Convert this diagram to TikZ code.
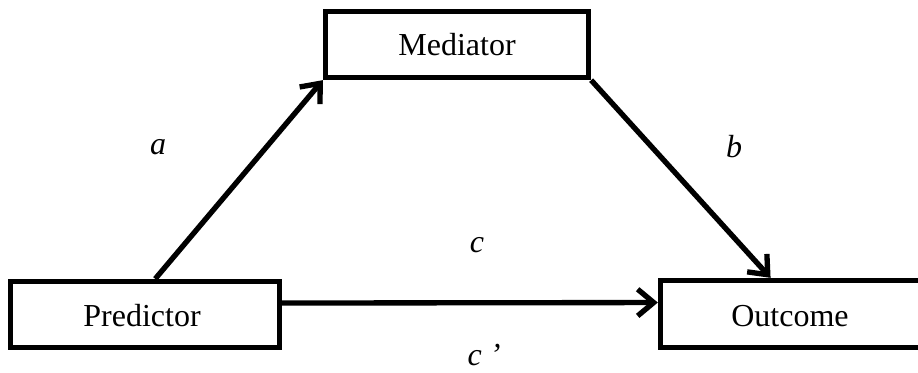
\documentclass[tikz,border=0pt]{standalone}
\usepackage{fontspec}
\setmainfont{Liberation Serif}
\usetikzlibrary{arrows.meta,calc}
\begin{document}
\begin{tikzpicture}[x=0.75pt,y=-0.75pt,
  box/.style={draw=black,line width=4pt,fill=white,inner sep=0pt,
    font=\fontsize{24}{28}\selectfont},
  txt/.style={font=\fontsize{24}{28}\selectfont,inner sep=0pt},
  lbl/.style={font=\fontsize{24}{28}\selectfont\itshape,inner sep=0pt},
  conn/.style={line width=4pt,-{Straight Barb[length=12pt,width=20pt,line width=4pt]}}]
\useasboundingbox (0,0) rectangle (918,372);
\clip (0,0) rectangle (918,372);
\node[box,minimum width=263*0.75pt,minimum height=66*0.75pt] (med) at (457,44.5) {Mediator};
\node[box,minimum width=269*0.75pt,minimum height=66*0.75pt] (pred) at (145,314.5) {};
\node[txt] (predt) at (142,316) {Predictor};
\node[box,minimum width=290*0.75pt,minimum height=67*0.75pt] (out) at (805.5,314) {};
\node[txt] (outt) at (790,316) {Outcome};
\draw[conn] (pred.74) -- (med.south west);
\draw[conn] (med.south east) -- (out.134);
\draw[conn] ([yshift=8.6pt]pred.east) -- ([yshift=8.6pt]out.west);
\node[lbl] (la) at (158,147) {a};
\node[lbl] (lb) at (734,147) {b};
\node[lbl] (lc) at (477,245) {c};
\node[lbl] (lcp) at (484,355) {c ’};
\end{tikzpicture}
\end{document}
